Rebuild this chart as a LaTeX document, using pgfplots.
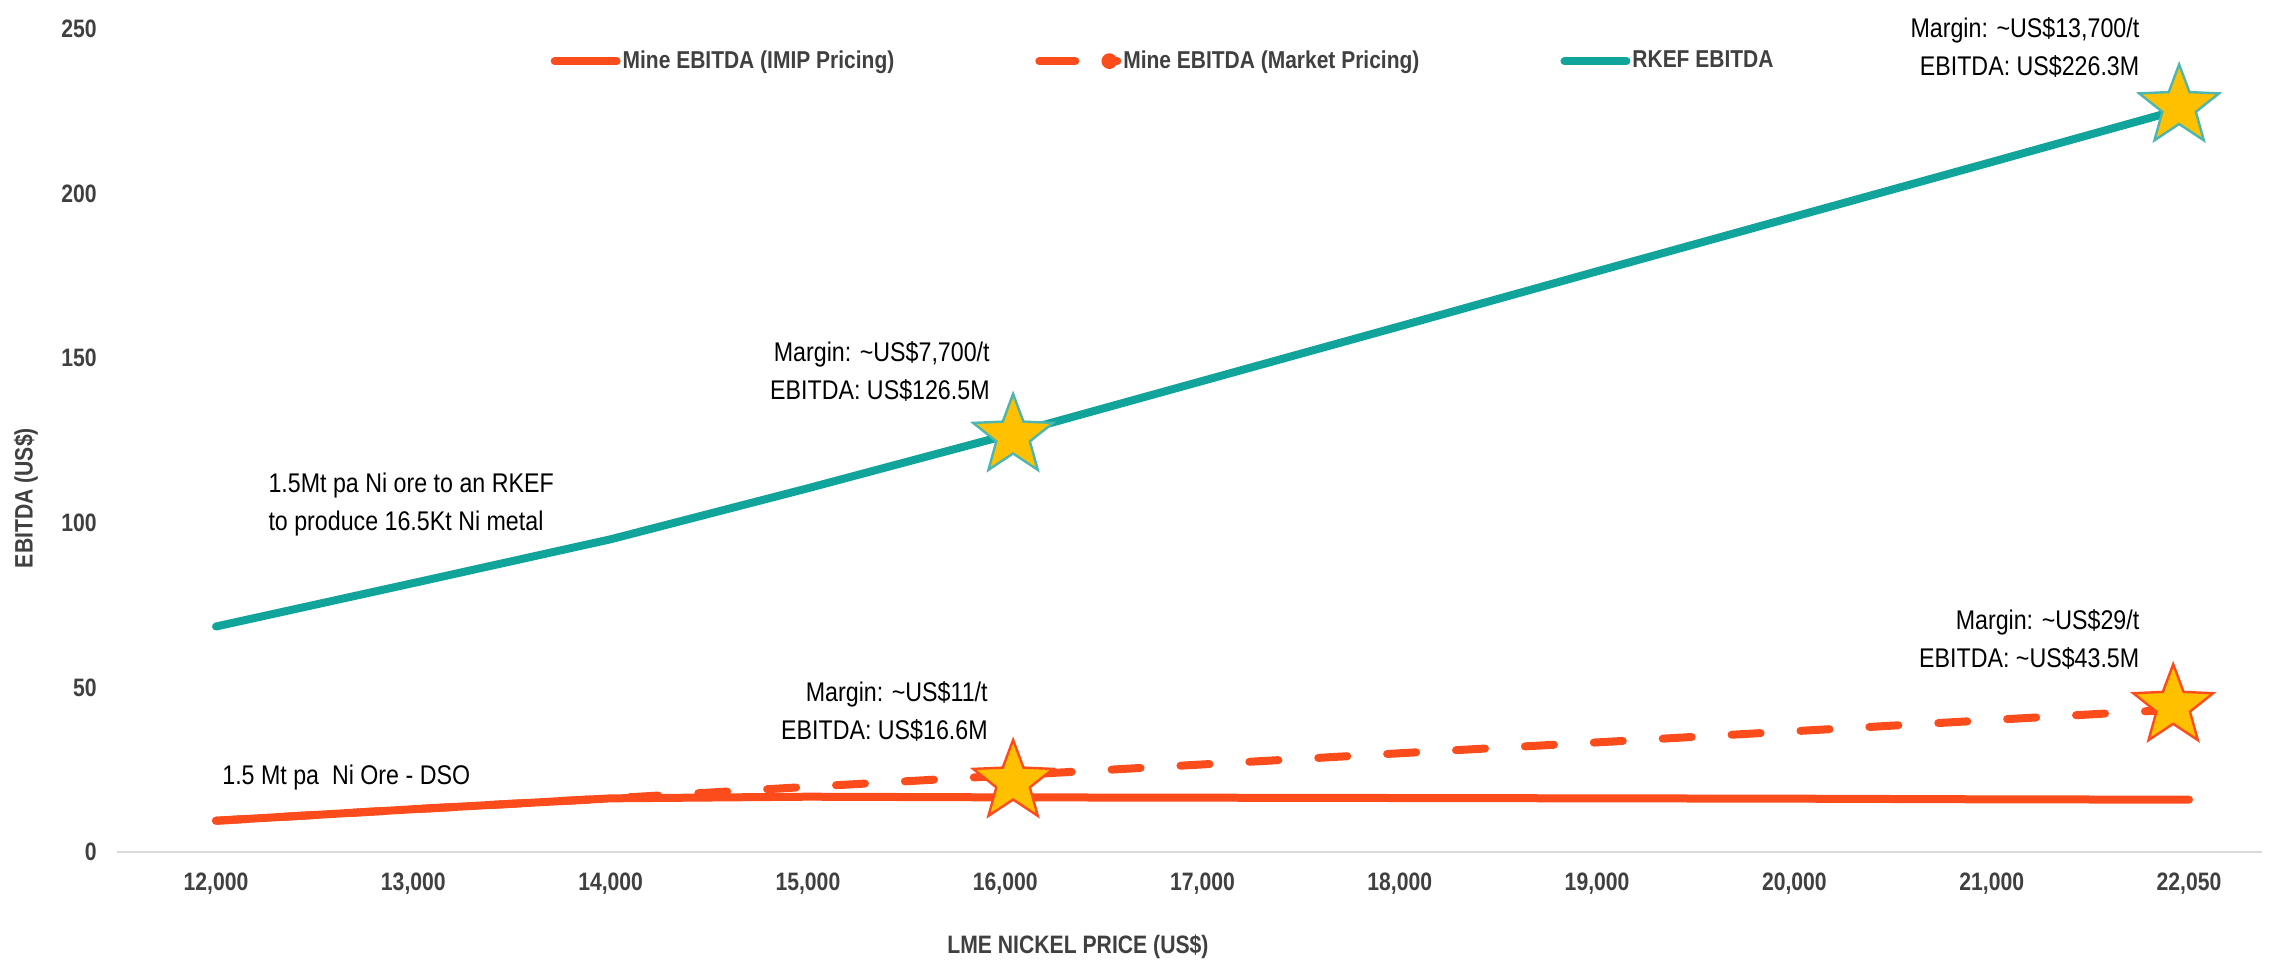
\documentclass[border=0pt]{standalone}
\usepackage{fontspec}
\setmainfont{Liberation Sans}
\newfontfamily\condfont{Liberation Sans}[FakeStretch=0.84]
\newfontfamily\annfont{Liberation Sans}[FakeStretch=0.86]
\usepackage{pgfplots}
\usepackage{pgfplotstable}
\pgfplotsset{compat=1.18}

\definecolor{mineorange}{HTML}{FC4C1C}
\definecolor{rkefteal}{HTML}{11A49B}
\definecolor{stargold}{HTML}{FFC000}
\definecolor{staredge}{HTML}{4DB6AE}
\definecolor{labelgray}{HTML}{404040}
\definecolor{basegray}{HTML}{D9D9D9}

% filled five-pointed star mark
\pgfdeclareplotmark{fstar}{%
  \pgfpathmoveto{\pgfpointpolar{90}{\pgfplotmarksize}}%
  \pgfpathlineto{\pgfpointpolar{126}{0.42\pgfplotmarksize}}%
  \pgfpathlineto{\pgfpointpolar{162}{\pgfplotmarksize}}%
  \pgfpathlineto{\pgfpointpolar{198}{0.42\pgfplotmarksize}}%
  \pgfpathlineto{\pgfpointpolar{234}{\pgfplotmarksize}}%
  \pgfpathlineto{\pgfpointpolar{270}{0.42\pgfplotmarksize}}%
  \pgfpathlineto{\pgfpointpolar{306}{\pgfplotmarksize}}%
  \pgfpathlineto{\pgfpointpolar{342}{0.42\pgfplotmarksize}}%
  \pgfpathlineto{\pgfpointpolar{18}{\pgfplotmarksize}}%
  \pgfpathlineto{\pgfpointpolar{54}{0.42\pgfplotmarksize}}%
  \pgfpathclose
  \pgfusepathqfillstroke
}

% x = category index (12,000 ... 22,050)
\pgfplotstableread{
x  imip  market  rkef
0  9.5   9.5     68.5
1  13.0  13.0    81.7
2  16.3  16.3    95.0
3  16.8  19.8    110.5
4  16.6  23.2    126.5
5  16.5  26.6    143.1
6  16.4  30.0    159.7
7  16.3  33.3    176.4
8  16.2  36.7    193.0
9  16.0  40.1    209.6
10 15.9  43.5    226.3
}\ebitda

\tikzset{ann/.style={font=\annfont\fontsize{13.5}{19}\selectfont, inner sep=0pt, text=black}}
\newcommand\axfont{\condfont\bfseries\fontsize{12.6}{14}\selectfont}

\begin{document}
\begin{tikzpicture}
\useasboundingbox (-58.5pt,-57pt) rectangle (1087.5pt,426pt);
\begin{axis}[
    at={(0pt,0pt)}, anchor=south west,
    scale only axis, width=1072.5pt, height=411.5pt,
    xmin=-0.502, xmax=10.37, ymin=0, ymax=250,
    clip=false,
    axis x line*=bottom, axis y line*=left,
    x axis line style={basegray, line width=1pt},
    y axis line style={draw=none},
    major tick length=0pt,
    xtick={0,1,...,10},
    xticklabels={{12,000},{13,000},{14,000},{15,000},{16,000},{17,000},{18,000},{19,000},{20,000},{21,000},{22,050}},
    ytick={0,50,100,150,200,250},
    yticklabels={0,50,100,150,200,250},
    tick label style={font=\axfont, text=labelgray},
    xticklabel style={anchor=center, yshift=-16pt},
    yticklabel style={anchor=east, inner sep=0pt, xshift=-10pt},
    xlabel={LME NICKEL PRICE (US\$)},
    ylabel={EBITDA (US\$)},
    every axis x label/.style={at={(rel axis cs:0.448,0)}, anchor=center,
        yshift=-47.5pt, font=\axfont, text=labelgray},
    every axis y label/.style={at={(rel axis cs:0,0.43)}, rotate=90, anchor=center,
        yshift=45.5pt, font=\axfont, text=labelgray},
    legend columns=3,
    legend style={at={(rel axis cs:0.202,0.961)}, anchor=west, draw=none, fill=none,
        inner sep=0pt, nodes={inner sep=1pt},
        font=\annfont\bfseries\fontsize{12.2}{13}\selectfont, text=labelgray,
        /tikz/every even column/.append style={column sep=69.5pt}},
]

\addplot[mineorange, line width=4pt, line join=round, line cap=round,
    legend image code/.code={\path (0pt,0pt) -- (31pt,0pt);
        \draw[solid, line width=4pt, line cap=round] (2pt,0pt) -- (29pt,0pt);}]
    table[x=x, y=imip] {\ebitda};
\addlegendentry{Mine EBITDA (IMIP Pricing)}

\addplot[mineorange, line width=4pt, line join=round, line cap=round,
    dash pattern=on 14.5pt off 20pt,
    legend image code/.code={\path (0pt,0pt) -- (39pt,0pt);
        \draw[solid, line width=4pt, line cap=round] (2pt,0pt) -- (18pt,0pt);
        \fill (35pt,0pt) circle (2pt);}]
    table[x=x, y=market] {\ebitda};
\addlegendentry{Mine EBITDA (Market Pricing)\hspace{-10pt}}

\addplot[rkefteal, line width=4pt, line join=round, line cap=round,
    legend image code/.code={\path (0pt,0pt) -- (31pt,0pt);
        \draw[solid, line width=4pt, line cap=round] (2pt,0pt) -- (29pt,0pt);}]
    table[x=x, y=rkef] {\ebitda};
\addlegendentry{RKEF EBITDA}

% highlighted points
\addplot[forget plot, only marks, staredge, mark=fstar, mark size=21pt,
    mark options={solid, fill=stargold, line width=1.2pt}]
    coordinates {(4.04,126.4) (9.95,226.5)};
\addplot[forget plot, only marks, mineorange, mark=fstar, mark size=21pt,
    mark options={solid, fill=stargold, line width=1.2pt}]
    coordinates {(4.04,21.3) (9.92,44.3)};

% annotations
\node[ann, anchor=east, align=right] at (axis cs:9.75,244.5)
    {Margin: \textasciitilde US\$13,700/t\\EBITDA: US\$226.3M};
\node[ann, anchor=east, align=right] at (axis cs:3.923,146.0)
    {Margin: \textasciitilde US\$7,700/t\\EBITDA: US\$126.5M};
\node[ann, anchor=west, align=left] at (axis cs:0.264,105.6)
    {1.5Mt pa Ni ore to an RKEF\\to produce 16.5Kt Ni metal};
\node[ann, anchor=west] at (axis cs:0.03,22.5)
    {1.5 Mt pa\ \ Ni Ore - DSO};
\node[ann, anchor=east, align=right] at (axis cs:3.913,42.7)
    {Margin: \textasciitilde US\$11/t\\EBITDA: US\$16.6M};
\node[ann, anchor=east, align=right] at (axis cs:9.75,64.7)
    {Margin: \textasciitilde US\$29/t\\EBITDA: \textasciitilde US\$43.5M};

\end{axis}
\end{tikzpicture}
\end{document}
